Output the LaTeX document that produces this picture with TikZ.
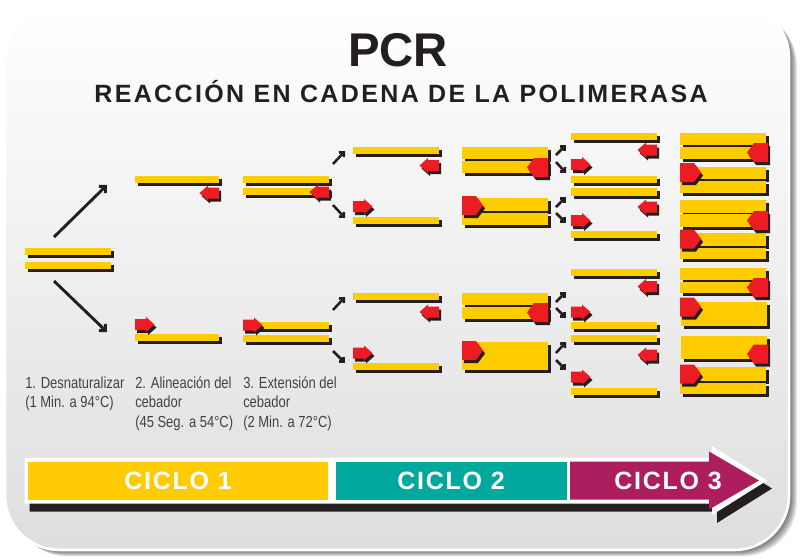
\documentclass[tikz,border=0pt]{standalone}
\usepackage{fontspec}
\setmainfont{Liberation Sans}
\newfontfamily\labfont[FakeStretch=0.81]{Liberation Sans}
\newfontfamily\spacedfont[LetterSpace=7]{Liberation Sans}
\newfontfamily\subtfont[LetterSpace=9.5]{Liberation Sans}
\usetikzlibrary{arrows.meta}
\definecolor{dnay}{HTML}{FFCC00}
\definecolor{primred}{HTML}{ED1C24}
\definecolor{inkc}{HTML}{231F20}
\definecolor{cyc1}{HTML}{FFCB05}
\definecolor{cyc2}{HTML}{00A89D}
\definecolor{cyc3}{HTML}{AD1E5F}
\tikzset{
  bigarr/.style={draw=inkc, line width=2.2pt, -{Straight Barb[angle=90:5pt]}},
  brarr/.style={draw=inkc, line width=1.9pt, -{Straight Barb[angle=90:3.6pt]}},
  labtext/.style={font=\labfont\fontsize{12}{14}\selectfont, text=inkc!85, anchor=base west, inner sep=0pt},
  cyctext/.style={font=\spacedfont\bfseries\fontsize{18.75}{20}\selectfont, text=white, anchor=base, inner sep=0pt},
}
\newcommand{\dnastrand}[4]{%
  \fill[inkc] (#1+2.5,#2+2.5) rectangle (#3+2.5,#4+2.5);
  \fill[dnay] (#1,#2) rectangle (#3,#4);}
\newcommand{\smallprim}[1]{\fill[#1] (0,-5.5) -- (11,-5.5) -- (11,-7.5) -- (19.5,0) -- (11,7.5) -- (11,5.5) -- (0,5.5) -- cycle;}
\newcommand{\bigprim}[1]{\fill[#1] (0,-9.5) -- (14,-9.5) -- (21,0) -- (14,9.5) -- (0,9.5) -- cycle;}
\newcommand{\primR}[2]{%
  \begin{scope}[shift={(#1+2,#2+3)}]\smallprim{inkc}\end{scope}
  \begin{scope}[shift={(#1,#2)}]\smallprim{primred}\end{scope}}
\newcommand{\primL}[2]{%
  \begin{scope}[shift={(#1+2,#2+3)},xscale=-1]\smallprim{inkc}\end{scope}
  \begin{scope}[shift={(#1,#2)},xscale=-1]\smallprim{primred}\end{scope}}
\newcommand{\bprimR}[2]{%
  \begin{scope}[shift={(#1+2,#2+3)}]\bigprim{inkc}\end{scope}
  \begin{scope}[shift={(#1,#2)}]\bigprim{primred}\end{scope}}
\newcommand{\bprimL}[2]{%
  \begin{scope}[shift={(#1+2,#2+3)},xscale=-1]\bigprim{inkc}\end{scope}
  \begin{scope}[shift={(#1,#2)},xscale=-1]\bigprim{primred}\end{scope}}
\newcommand{\brarrow}[5]{%
  \coordinate (#1s) at (#2,#3); \coordinate (#1e) at (#4,#5);
  \draw[brarr] (#1s) -- (#1e);}
\begin{document}
\begin{tikzpicture}[x=0.75pt,y=-0.75pt]
\useasboundingbox (0,0) rectangle (800,558);
\fill[white] (0,0) rectangle (800,558);
% card shadow
\foreach \i in {1,...,8} {
  \fill[black, opacity=0.09, rounded corners=41pt] (5+\i,3+\i) rectangle (789+\i,550+\i*0.8);
}
\shade[top color=white, bottom color=black!13, rounded corners=41pt] (5,3) rectangle (789,550);
\draw[white, line width=2pt, rounded corners=41pt] (5,3) rectangle (789,550);

% titles
\node[anchor=base, font=\bfseries\fontsize{35.5}{40}\selectfont, text=inkc, inner sep=0pt] (title) at (398,66) {PCR};
\node[anchor=base, font=\subtfont\bfseries\fontsize{18.75}{22}\selectfont, text=inkc, inner sep=0pt] (subtitle) at (401,102) {REACCIÓN EN CADENA DE LA POLIMERASA};

% stage 1
\dnastrand{25}{248}{111}{255}
\dnastrand{25}{262}{111}{269}
\coordinate (d1s) at (54,237); \coordinate (d1e) at (107,185);
\coordinate (d2s) at (54,281); \coordinate (d2e) at (107,332);
\draw[bigarr] (d1s) -- (d1e);
\draw[bigarr] (d2s) -- (d2e);

% stage 2
\dnastrand{135}{176}{219}{183}
\dnastrand{135}{334}{219}{341}
\primL{219}{193}
\primR{135}{324.5}

% stage 3
\dnastrand{243}{176}{329}{183}
\dnastrand{243}{188}{329}{195}
\dnastrand{250}{322}{329}{329}
\dnastrand{243}{335}{329}{342}
\primL{329}{192}
\primR{243}{325}
\brarrow{b1}{333}{164}{345}{151}
\brarrow{b2}{333}{205}{345}{218}
\brarrow{b3}{333}{310}{345}{297}
\brarrow{b4}{333}{351}{345}{363}

% stage 4
\dnastrand{353}{147}{439}{154}
\dnastrand{353}{217}{439}{224}
\dnastrand{353}{293}{439}{300}
\dnastrand{353}{363}{439}{370}
\primL{439}{165.5}
\primR{353}{206.5}
\primL{439}{312}
\primR{353}{353}

% stage 5
\dnastrand{462}{147}{548}{159}
\dnastrand{462}{161}{548}{173}
\dnastrand{462}{198}{548}{211}
\dnastrand{462}{213}{548}{225}
\dnastrand{462}{293}{548}{305}
\dnastrand{462}{307}{548}{319}
\dnastrand{462}{342}{548}{370}
\bprimL{548}{167.5}
\bprimR{462}{205.5}
\bprimL{548}{312.5}
\bprimR{462}{350.5}
\brarrow{c1}{556}{155}{566}{145}
\brarrow{c2}{556}{162}{566}{173}
\brarrow{c3}{556}{207}{566}{197}
\brarrow{c4}{556}{213}{566}{223}
\brarrow{c5}{556}{302}{566}{292}
\brarrow{c6}{556}{308}{566}{318}
\brarrow{c7}{556}{353}{566}{342}
\brarrow{c8}{556}{360}{566}{370}

% stage 6
\dnastrand{571}{133}{657}{140}
\dnastrand{571}{176}{657}{183}
\dnastrand{571}{188}{657}{196}
\dnastrand{571}{231}{657}{238}
\dnastrand{571}{269}{657}{276}
\dnastrand{571}{322}{657}{329}
\dnastrand{571}{335}{657}{342}
\dnastrand{571}{388}{657}{395}
\primL{657}{150}
\primR{571}{164.5}
\primL{657}{207}
\primR{571}{220.5}
\primL{657}{286.5}
\primR{571}{312}
\primL{657}{355}
\primR{571}{377}

% stage 7
\dnastrand{680}{133}{766}{145}
\dnastrand{680}{147}{766}{159}
\dnastrand{680}{167}{766}{179}
\dnastrand{680}{181}{766}{193}
\dnastrand{680}{200}{766}{213}
\dnastrand{680}{214}{766}{227}
\dnastrand{680}{233}{766}{246}
\dnastrand{680}{248}{766}{259}
\dnastrand{680}{268}{766}{280}
\dnastrand{680}{282}{766}{293}
\dnastrand{681}{302}{767}{326}
\dnastrand{681}{336}{767}{359}
\dnastrand{680}{367}{766}{381}
\dnastrand{680}{383}{766}{394}
\bprimL{768}{152.5}
\bprimR{680}{172.5}
\bprimL{768}{220.5}
\bprimR{680}{239}
\bprimL{768}{287.5}
\bprimR{680}{307}
\bprimL{768}{354}
\bprimR{680}{374}

% step labels
\node[labtext] (l1a) at (25,388.5) {1. Desnaturalizar};
\node[labtext] (l1b) at (25,407.5) {(1 Min. a 94°C)};
\node[labtext] (l2a) at (135,388.5) {2. Alineación del};
\node[labtext] (l2b) at (135,407.5) {cebador};
\node[labtext] (l2c) at (135,427) {(45 Seg. a 54°C)};
\node[labtext] (l3a) at (243,388.5) {3. Extensión del};
\node[labtext] (l3b) at (243,407.5) {cebador};
\node[labtext] (l3c) at (243,427) {(2 Min. a 72°C)};

% cycle bar
\fill[inkc] (29.5,465.5) -- (717,465.5) -- (717,454) -- (772,488.5) -- (717,523) -- (717,511.5) -- (29.5,511.5) -- cycle;
\fill[white] (24.5,457.5) -- (712,457.5) -- (712,446) -- (767,480.5) -- (712,515) -- (712,503.5) -- (24.5,503.5) -- cycle;
\fill[cyc1] (28,461.5) rectangle (328,499.5);
\fill[cyc2] (336,461.5) rectangle (567,499.5);
\fill[cyc3] (570,461.5) -- (709,461.5) -- (709,451.5) -- (759,480.5) -- (709,509.5) -- (709,499.5) -- (570,499.5) -- cycle;
\node[cyctext] (cy1) at (178,489) {CICLO 1};
\node[cyctext] (cy2) at (451,489) {CICLO 2};
\node[cyctext] (cy3) at (668,489) {CICLO 3};
\end{tikzpicture}
\end{document}
